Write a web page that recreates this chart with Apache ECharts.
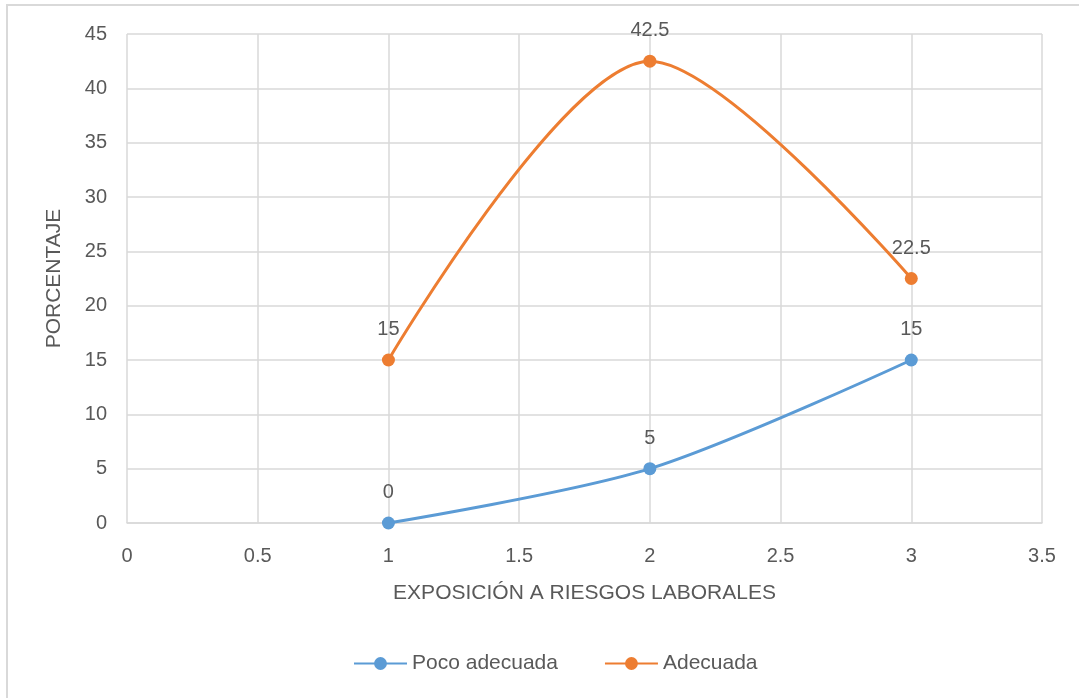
<!DOCTYPE html>
<html>
<head>
<meta charset="utf-8">
<script src="https://cdn.jsdelivr.net/npm/echarts@6/dist/echarts.min.js"></script>
<style>
  html, body { margin: 0; padding: 0; background: #fff; }
  #chart { width: 1079px; height: 698px; }
</style>
</head>
<body>
<div id="chart"></div>
<script>
// Exposure levels (x) and percentages per series
const xValues = [1, 2, 3];
const pocoAdecuada = [0, 5, 15];
const adecuada = [15, 42.5, 22.5];
const seriesNames = ['Poco adecuada', 'Adecuada'];
const xAxisName = 'EXPOSICIÓN A RIESGOS LABORALES';
const yAxisName = 'PORCENTAJE';

const FONT = 'Liberation Sans';
const TEXT = '#595959';
const GRID = '#D9D9D9';

const pairs = ys => xValues.map((x, i) => [x, ys[i]]);

const chart = echarts.init(document.getElementById('chart'), null, { renderer: 'canvas' });

function makeSeries(name, ys, color) {
  return {
    name: name,
    type: 'line',
    data: pairs(ys),
    smooth: 0.3,
    symbol: 'circle',
    symbolSize: 13,
    lineStyle: { color: color, width: 3 },
    itemStyle: { color: color },
    label: {
      show: true,
      position: 'top',
      distance: 14,
      color: TEXT,
      fontFamily: FONT,
      fontSize: 20
    }
  };
}

chart.setOption({
  animation: false,
  backgroundColor: '#fff',
  graphic: [
    // chart frame edges
    { type: 'line', shape: { x1: 6, y1: 5, x2: 1079, y2: 5 }, style: { stroke: '#D9D9D9', lineWidth: 2 } },
    { type: 'line', shape: { x1: 7, y1: 5, x2: 7, y2: 698 }, style: { stroke: '#D9D9D9', lineWidth: 2 } }
  ],
  grid: { left: 127, right: 37, top: 34, bottom: 175 },
  legend: {
    data: seriesNames,
    bottom: 19,
    left: 348,
    itemWidth: 53,
    itemHeight: 16,
    itemGap: 46,
    textStyle: { color: TEXT, fontFamily: FONT, fontSize: 21 }
  },
  xAxis: {
    type: 'value',
    min: 0,
    max: 3.5,
    interval: 0.5,
    name: xAxisName,
    nameLocation: 'middle',
    nameGap: 60,
    nameTextStyle: { color: TEXT, fontFamily: FONT, fontSize: 21 },
    axisLine: { show: true, lineStyle: { color: GRID, width: 1.5 } },
    axisTick: { show: false },
    axisLabel: { color: TEXT, fontFamily: FONT, fontSize: 20, margin: 23 },
    splitLine: { show: true, lineStyle: { color: GRID, width: 1.5 } }
  },
  yAxis: {
    type: 'value',
    min: 0,
    max: 45,
    interval: 5,
    name: yAxisName,
    nameLocation: 'middle',
    nameGap: 62,
    nameTextStyle: { color: TEXT, fontFamily: FONT, fontSize: 21 },
    axisLine: { show: false },
    axisTick: { show: false },
    axisLabel: { color: TEXT, fontFamily: FONT, fontSize: 20, margin: 20 },
    splitLine: { show: true, lineStyle: { color: GRID, width: 1.5 } }
  },
  series: [
    makeSeries(seriesNames[0], pocoAdecuada, '#5B9BD5'),
    makeSeries(seriesNames[1], adecuada, '#ED7D31')
  ]
});
</script>
</body>
</html>
